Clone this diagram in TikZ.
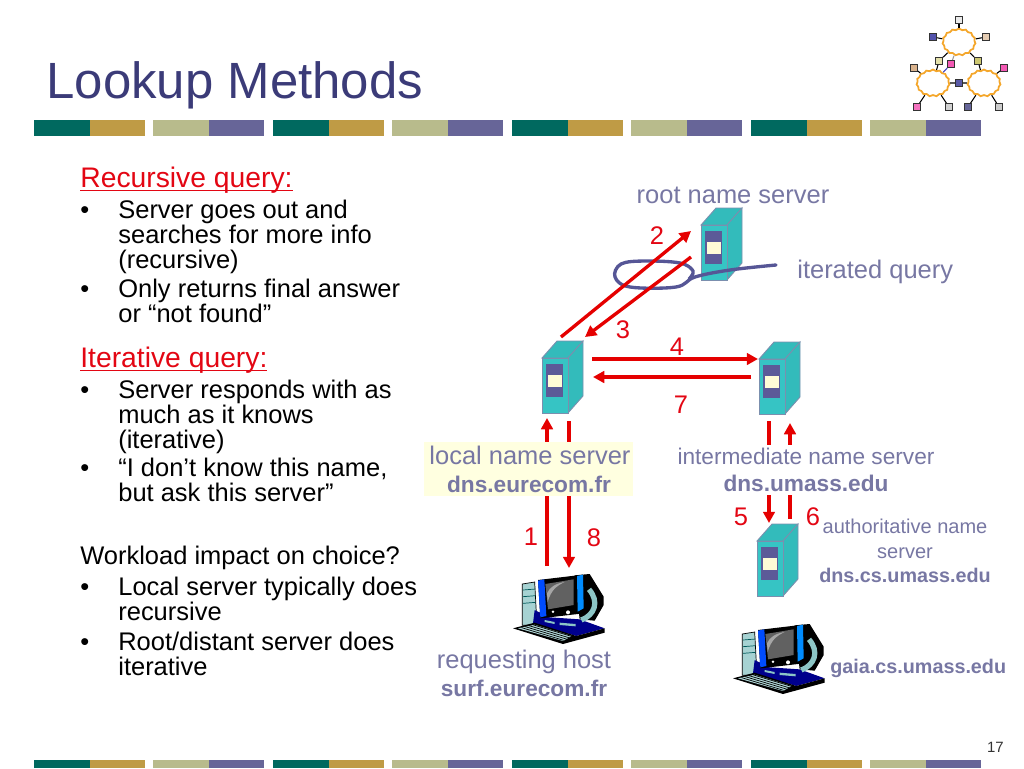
\documentclass[tikz,border=0pt]{standalone}
\usepackage{fontspec}
\setmainfont{Liberation Sans}
\usetikzlibrary{arrows.meta,shapes.symbols}
\definecolor{barteal}{HTML}{00695F}
\definecolor{bargold}{HTML}{BF9B45}
\definecolor{barsage}{HTML}{B8BB8C}
\definecolor{barblue}{HTML}{676598}
\definecolor{titleblue}{HTML}{3B3B78}
\definecolor{labelblue}{HTML}{7777A3}
\definecolor{loopblue}{HTML}{565696}
\definecolor{headred}{HTML}{E30613}
\definecolor{srvfront}{HTML}{36C4C4}
\definecolor{srvtop}{HTML}{33BBBB}
\definecolor{srvedge}{HTML}{7B8FAE}
\definecolor{srvpanel}{HTML}{5C5A98}
\definecolor{srvcream}{HTML}{FFFBD6}
\definecolor{boxyellow}{HTML}{FFFFE0}
\definecolor{cloudorange}{HTML}{F4A62A}
\newcommand{\headul}[1]{\setbox0=\hbox{#1}\rlap{\rule[-2.4pt]{\wd0}{.75pt}}\box0}
\tikzset{
	bodytxt/.style={anchor=base west,inner sep=0pt,font=\fontsize{14.5}{16}\selectfont},
	headtxt/.style={anchor=base west,inner sep=0pt,text=headred,font=\fontsize{16.1}{18}\selectfont},
	numtxt/.style={anchor=base,inner sep=0pt,text=headred,font=\fontsize{14.5}{16}\selectfont},
	srvtxt/.style={anchor=base,inner sep=0pt,text=labelblue,font=\fontsize{14.5}{16}\selectfont},
	smalltxt/.style={anchor=base,inner sep=0pt,text=labelblue,font=\fontsize{12.9}{16}\selectfont},
	tinytxt/.style={anchor=base,inner sep=0pt,text=labelblue,font=\fontsize{11.4}{16}\selectfont},
	boldtxt/.style={anchor=base,inner sep=0pt,text=labelblue,font=\bfseries\fontsize{12.9}{16}\selectfont},
	boldsmall/.style={anchor=base,inner sep=0pt,text=labelblue,font=\bfseries\fontsize{11.25}{14}\selectfont},
	redarrow/.style={draw=red!90!black,line width=1.9pt,-{Triangle[length=6.4pt,width=6.6pt]}},
	netcloud/.style={cloud,cloud puffs=15,cloud puff arc=110,aspect=1.2,draw=cloudorange,line width=1pt,fill=white,minimum width=.66cm,minimum height=.54cm,inner sep=0pt},
	term/.style={draw=black!80,line width=.5pt,fill=#1,minimum size=.14cm,inner sep=0pt},
	pics/server/.style={code={
		\draw[srvedge,line width=.5pt,fill=srvtop] (0,0) -- (15,-17) -- (41,-17) -- (26,0) -- cycle;
		\draw[srvedge,line width=.5pt,fill=srvtop] (26,0) -- (41,-17) -- (41,38) -- (26,55) -- cycle;
		\draw[srvedge,line width=.5pt,fill=srvfront] (0,0) rectangle (26,55);
		\fill[srvpanel] (3.5,6) rectangle (20.5,39);
		\fill[srvcream] (5.5,17) rectangle (19.5,29);
	}},
	pics/host/.style={code={
		\begin{scope}[scale=1/3,shift={(-40,-42)}]
		\draw[black,line width=.4pt,fill=teal!35] (68,72) -- (105,66) -- (112,196) -- (68,196) -- cycle;
		\foreach \s in {90,110,130} {
			\draw[teal!70!black,line width=.4pt] (70,\s) -- (108,\s-3);
		}
		\fill[blue!55!black] (105,150) -- (150,172) -- (240,178) -- (315,205) -- (230,228) -- (100,190) -- cycle;
		\fill[black] (40,205) -- (105,188) -- (230,228) -- (315,205) -- (315,218) -- (190,252) -- cycle;
		\fill[teal!30] (55,205) -- (105,194) -- (216,228) -- (190,243) -- cycle;
		\foreach \s in {0,1,2,3} {
			\draw[black,line width=.4pt] (66+11*\s,203-3*\s) -- (192+11*\s,241-3*\s);
		}
		\fill[black] (225,46) -- (270,42) -- (312,110) -- (312,135) -- (285,182) -- (240,178) -- cycle;
		\draw[teal!45,line width=3pt] (268,88) .. controls (300,125) and (285,165) .. (245,180);
		\fill[black] (115,60) -- (250,44) -- (252,160) -- (122,175) -- cycle;
		\fill[blue!70!cyan] (115,62) -- (134,58) -- (140,168) -- (122,172) -- cycle;
		\fill[blue!45!cyan] (232,48) -- (250,44) -- (252,145) -- (234,155) -- cycle;
		\fill[black!62] (137,72) -- (222,58) -- (222,135) -- (145,148) -- cycle;
		\fill[black!35] (142,100) .. controls (150,80) and (170,70) .. (195,66) .. controls (170,78) and (155,90) .. (144,125) -- cycle;
		\fill[white] (160,155) circle (4);
		\fill[white] (205,157) circle (6);
		\fill[teal!45] (135,180) -- (165,186) -- (165,192) -- (135,186) -- cycle;
		\fill[teal!45] (180,188) -- (228,192) -- (228,199) -- (180,195) -- cycle;
		\end{scope}
	}}
}
\begin{document}
\begin{tikzpicture}[x=.02cm,y=-.02cm]
	\useasboundingbox (0,0) rectangle (1024,768);

	\foreach \x in {34,273,512,751} {
		\fill[barteal] (\x,119.5) rectangle ++(56,16.5);
		\fill[bargold] (\x+56,119.5) rectangle ++(55,16.5);
		\fill[barteal] (\x,760) rectangle ++(56,8);
		\fill[bargold] (\x+56,760) rectangle ++(55,8);
	}
	\foreach \x in {153,392,631,870} {
		\fill[barsage] (\x,119.5) rectangle ++(56,16.5);
		\fill[barblue] (\x+56,119.5) rectangle ++(55,16.5);
		\fill[barsage] (\x,760) rectangle ++(56,8);
		\fill[barblue] (\x+56,760) rectangle ++(55,8);
	}

	\node[anchor=base west,inner sep=0pt,text=titleblue,font=\fontsize{29}{32}\selectfont] (title) at (46,98) {Lookup Methods};
	\node[anchor=base east,inner sep=0pt,text=black!80,font=\fontsize{8.5}{10}\selectfont] (pagenum) at (1004,752) {17};

	\node[headtxt] (headrec) at (80,187) {\headul{Recursive query:}};
	\node[headtxt] (headit) at (80,367) {\headul{Iterative query:}};
	\foreach \y in {218,297,398,476,595,650} {
		\node[bodytxt] at (80,\y) {•};
	}
	\foreach \y/\txt in {218/Server goes out and,243/searches for more info,268/(recursive),
		297/Only returns final answer,322/or “not found”,398/Server responds with as,
		423/much as it knows,448/(iterative),476/{“I don’t know this name,},501/but ask this server”,
		595/Local server typically does,620/recursive,650/{Root/distant server does},675/iterative} {
		\node[bodytxt] at (118,\y) {\txt};
	}
	\node[bodytxt] (workload) at (80,564) {Workload impact on choice?};

	\pic (srvroot) at (701,225) {server};
	\pic (srvlocal) at (542,358) {server};
	\pic (srvinter) at (759,359) {server};
	\pic (srvauth) at (757,541) {server};
	\pic (hostreq) at (513,574) {host};
	\pic (hostgaia) at (733,624) {host};

	\draw[loopblue,line width=1.9pt,line cap=round] plot[smooth,tension=.6] coordinates {(776,265) (730,270) (695,277) (676,287) (630,287) (615,277) (621,264) (645,261) (680,263) (693,271) (689,279)};

	\foreach \n/\x/\y in {a/561/337,b/691/231,c/691/257,d/585/337,e/592/359,f/758/359,g/751/377,h/593/377,
		i/547/566,j/547/418,k/569/421,l/569/568,m/769/421,n/769/523,o/790/519,p/790/423} {
		\coordinate (\n) at (\x,\y);
	}
	\foreach \s/\t in {a/b,c/d,e/f,g/h,i/j,k/l,m/n,o/p} {
		\draw[redarrow] (\s) -- (\t);
	}

	\node[draw=none,fill=boxyellow,minimum width=4.18cm,minimum height=1.08cm,inner sep=0pt] (localbox) at (528.5,469) {};
	\node[fill=white,minimum width=5.3cm,minimum height=1cm,inner sep=0pt] (interbox) at (806,470) {};

	\node[srvtxt] (rootname) at (733,203) {root name server};
	\node[srvtxt,anchor=base west] (iterq) at (797,278) {iterated query};
	\node[srvtxt] (localname) at (530,464) {local name server};
	\node[boldtxt] (localdns) at (529,492) {dns.eurecom.fr};
	\node[smalltxt] (intername) at (806,464) {intermediate name server};
	\node[boldtxt] (interdns) at (806,491) {dns.umass.edu};
	\node[tinytxt] (authname) at (905,533) {authoritative name};
	\node[tinytxt] (authname2) at (905,558) {server};
	\node[boldsmall] (authdns) at (905,582) {dns.cs.umass.edu};
	\node[srvtxt] (reqname) at (524,668) {requesting host};
	\node[boldtxt] (reqdns) at (524,696) {surf.eurecom.fr};
	\node[boldsmall,anchor=base west] (gaiadns) at (830,673) {gaia.cs.umass.edu};

	\foreach \x/\y/\lab in {657/244/2,623/338/3,677/355/4,681/413/7,531/545/1,594/546/8,741/525/5,813/525/6} {
		\node[numtxt] at (\x,\y) {\lab};
	}

	\node[netcloud] (cloudA) at (959,42) {};
	\node[netcloud] (cloudB) at (933,83) {};
	\node[netcloud] (cloudC) at (984,83) {};
	\foreach \n/\x/\y/\c in {ta/959/20/black!8,tb/933/37/blue!35!gray,tc/986/37/brown!40,td/939/61/olive!25,
		te/951/64/magenta!65,tf/978/61/olive!45,tg/914/68/brown!60,th/1004/68/magenta!65,ti/959/83/blue!30!gray,
		tj/917/107/magenta!55,tk/949/107/black!18,tl/968/107/blue!20!gray,tm/999/107/black!20} {
		\node[term=\c] (\n) at (\x,\y) {};
	}
	\foreach \s/\t in {ta/cloudA,tb/cloudA,tc/cloudA,cloudA/td,td/cloudB,cloudA/tf,tf/cloudC,tg/cloudB,
		th/cloudC,cloudB/ti,ti/cloudC,tj/cloudB,tk/cloudB,tl/cloudC,tm/cloudC} {
		\draw[black,line width=.6pt] (\s) -- (\t);
	}
	\draw[black!40,line width=.6pt] (cloudA) -- (te);
	\draw[blue!50!gray,line width=.6pt] (te) -- (cloudB);
\end{tikzpicture}
\end{document}
